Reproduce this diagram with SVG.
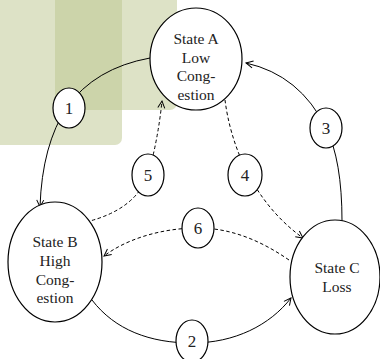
<svg xmlns="http://www.w3.org/2000/svg" width="380" height="359" viewBox="0 0 380 359">
<style>
.bg{fill:#bbc58d;fill-opacity:0.5}
.node{fill:#fff;stroke:#000;stroke-width:1.2}
.lbl{font-family:"Liberation Serif","Times New Roman",serif;font-size:15.5px;fill:#222;text-anchor:middle}
.num{font-family:"Liberation Serif","Times New Roman",serif;font-size:17px;fill:#222;text-anchor:middle}
.edge{fill:none;stroke:#000;stroke-width:1}
.dash{stroke-dasharray:3.5,2.5}
</style>
<defs>
<marker id="arr" markerUnits="userSpaceOnUse" markerWidth="12" markerHeight="12" viewBox="-9 -6 12 12" refX="0" refY="0" orient="auto">
<path d="M-7,-3.5 L0,0 L-7,3.5" fill="none" stroke="#000" stroke-width="1"/>
</marker>
</defs>
<g id="background">
<rect class="bg" x="-10" y="-10" width="132" height="155" rx="7"/>
<rect class="bg" x="55" y="-10" width="122" height="120" rx="7"/>
</g>
<g id="connectors">
<path class="edge" d="M150,58 Q95,68 67,107 Q42,145 40,207" marker-end="url(#arr)"/>
<path class="edge" d="M342,221 Q342,160 326,128 Q300,75 246,63" marker-end="url(#arr)"/>
<path class="edge" d="M92,300 C115,330 150,343 192,343 C235,343 270,325 291,298" marker-end="url(#arr)"/>
<path class="edge dash" d="M225,100 C230,140 250,200 303,238" marker-end="url(#arr)"/>
<path class="edge dash" d="M86,222 Q135,210 148,175 Q158,140 162,101" marker-end="url(#arr)"/>
<path class="edge dash" d="M289,260 C260,240 230,228 198,228 C160,228 125,240 104,256" marker-end="url(#arr)"/>
</g>
<g id="stateA">
<ellipse class="node" cx="196" cy="59" rx="46" ry="51"/>
<text class="lbl" x="196" y="44">State A</text>
<text class="lbl" x="196" y="62.5">Low</text>
<text class="lbl" x="196" y="81">Cong-</text>
<text class="lbl" x="196" y="99.5">estion</text>
</g>
<g id="stateB">
<ellipse class="node" cx="55" cy="262" rx="47" ry="60"/>
<text class="lbl" x="55" y="246.5">State B</text>
<text class="lbl" x="55" y="265.5">High</text>
<text class="lbl" x="55" y="284.5">Cong-</text>
<text class="lbl" x="55" y="303">estion</text>
</g>
<g id="stateC">
<ellipse class="node" cx="335" cy="277" rx="45" ry="57"/>
<text class="lbl" x="337" y="273">State C</text>
<text class="lbl" x="337" y="292">Loss</text>
</g>
<g id="n1"><ellipse class="node" cx="69" cy="108" rx="16" ry="20"/><text class="num" x="69" y="114">1</text></g>
<g id="n2"><ellipse class="node" cx="192" cy="341" rx="16" ry="21"/><text class="num" x="192" y="347">2</text></g>
<g id="n3"><ellipse class="node" cx="326" cy="128" rx="16" ry="20"/><text class="num" x="326" y="134">3</text></g>
<g id="n4"><ellipse class="node" cx="245" cy="175" rx="17" ry="21"/><text class="num" x="245" y="181">4</text></g>
<g id="n5"><ellipse class="node" cx="148" cy="175" rx="16" ry="21"/><text class="num" x="148" y="181">5</text></g>
<g id="n6"><ellipse class="node" cx="198" cy="228" rx="16" ry="20"/><text class="num" x="198" y="234">6</text></g>
</svg>
